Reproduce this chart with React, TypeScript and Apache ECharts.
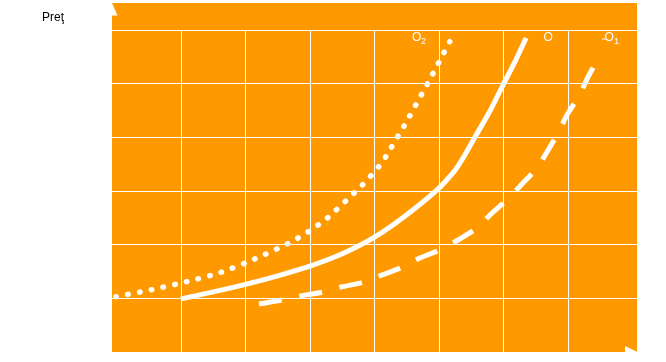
import React, { useEffect, useRef } from "react";
import * as echarts from "echarts";

// Curve O (solid) — x in grid columns, y in grid rows
const oX = [1.0, 1.5, 2.0, 2.5, 3.0, 3.5, 4.0, 4.47, 4.97, 5.25, 5.37, 5.56, 5.79, 5.99, 6.19, 6.35];
const oY = [0.99, 1.12, 1.26, 1.42, 1.6, 1.83, 2.14, 2.53, 3.02, 3.39, 3.61, 4.01, 4.49, 4.97, 5.44, 5.85];

// Curve O1 (dashed)
const o1X = [2.209, 2.566, 2.845, 3.202, 3.481, 3.837, 4.116, 4.442, 4.705, 5.047, 5.295, 5.589, 5.822, 6.07, 6.287, 6.519, 6.674, 6.845, 6.984, 7.171, 7.31, 7.465];
const o1Y = [0.894, 0.969, 1.043, 1.118, 1.211, 1.304, 1.435, 1.584, 1.751, 1.919, 2.087, 2.31, 2.59, 2.851, 3.13, 3.428, 3.727, 4.08, 4.416, 4.77, 5.124, 5.459];

// Curve O2 (dotted)
const o2X = [-0.008, 0.546, 1.088, 1.62, 2.143, 2.654, 2.974, 3.274, 3.553, 3.817, 4.065, 4.174, 4.457, 4.819, 5.166];
const o2Y = [1.03, 1.161, 1.31, 1.485, 1.733, 2.018, 2.241, 2.502, 2.813, 3.117, 3.453, 3.639, 4.211, 4.993, 5.782];

const yAxisTitle = "Preţ";
const curveNames = ["O", "O", "O"];
const curveSubs = ["", "1", "2"];

const pairs = (xs: number[], ys: number[]) => xs.map((x, i) => [x, ys[i]]);

export default function App() {
  const ref = useRef<HTMLDivElement>(null);
  useEffect(() => {
    if (!ref.current) return;
    const chart = echarts.init(ref.current, null, { renderer: "svg" });
    const orange = "#ff9900";
    const font = "'Liberation Sans', Arial, sans-serif";
    const hidden = {
      axisLine: { show: false },
      axisTick: { show: false },
      axisLabel: { show: false },
    };
    chart.setOption({
      animation: false,
      backgroundColor: "transparent",
      grid: [
        { left: 112, right: 29, top: 30, bottom: 10 },
        { left: 116.5, right: 33.5, top: 30, bottom: 10 },
      ],
      xAxis: [
        { type: "value", gridIndex: 0, min: 0, max: 8, interval: 1, ...hidden, splitLine: { show: false } },
        {
          type: "value",
          gridIndex: 1,
          min: 0,
          max: 8,
          interval: 1,
          ...hidden,
          splitLine: { show: true, showMinLine: false, showMaxLine: false, lineStyle: { color: "#ffffff", width: 1 } },
        },
      ],
      yAxis: [
        {
          type: "value",
          gridIndex: 0,
          min: 0,
          max: 6,
          interval: 1,
          ...hidden,
          splitLine: { show: true, showMinLine: false, lineStyle: { color: "#ffffff", width: 1 } },
        },
        { type: "value", gridIndex: 1, min: 0, max: 6, interval: 1, ...hidden, splitLine: { show: false } },
      ],
      graphic: [
        { type: "rect", z: -10, silent: true, shape: { x: 112, y: 3, width: 525, height: 349 }, style: { fill: orange } },
        { type: "polygon", z: 10, shape: { points: [[112, 3], [117.5, 15.5], [112, 15.5]] }, style: { fill: "#ffffff" } },
        { type: "polygon", z: 10, shape: { points: [[625, 346], [637.5, 352], [625, 352]] }, style: { fill: "#ffffff" } },
        { type: "text", x: 42, y: 16.5, style: { text: yAxisTitle, fill: "#000000", font: `12px ${font}`, verticalAlign: "middle" } },
        { type: "text", x: 412, y: 37, z: 10, style: { text: curveNames[2], fill: "#ffffff", font: `12px ${font}`, verticalAlign: "middle" } },
        { type: "text", x: 421, y: 40.5, z: 10, style: { text: curveSubs[2], fill: "#ffffff", font: `9px ${font}`, verticalAlign: "middle" } },
        { type: "text", x: 543.5, y: 37, z: 10, style: { text: curveNames[0], fill: "#ffffff", font: `12px ${font}`, verticalAlign: "middle" } },
        { type: "text", x: 604.5, y: 37, z: 10, style: { text: curveNames[1], fill: "#ffffff", font: `12px ${font}`, verticalAlign: "middle" } },
        { type: "text", x: 614, y: 40.5, z: 10, style: { text: curveSubs[1], fill: "#ffffff", font: `9px ${font}`, verticalAlign: "middle" } },
        { type: "rect", z: 10, shape: { x: 602, y: 38.5, width: 3.5, height: 1 }, style: { fill: "#ffffff" } },
      ],
      series: [
        {
          type: "line",
          name: "O",
          xAxisIndex: 1,
          yAxisIndex: 1,
          data: pairs(oX, oY),
          smooth: 0.25,
          showSymbol: false,
          clip: false,
          lineStyle: { color: "#ffffff", width: 5, cap: "butt" },
        },
        {
          type: "line",
          name: "O1",
          xAxisIndex: 1,
          yAxisIndex: 1,
          data: pairs(o1X, o1Y),
          smooth: 0.25,
          showSymbol: false,
          clip: false,
          lineStyle: { color: "#ffffff", width: 5, type: [23, 18], cap: "butt" },
        },
        {
          type: "line",
          name: "O2",
          xAxisIndex: 1,
          yAxisIndex: 1,
          data: pairs(o2X, o2Y),
          smooth: 0.25,
          showSymbol: false,
          clip: false,
          lineStyle: { color: "#ffffff", width: 5.5, type: [0.5, 11.5], cap: "round" },
        },
      ],
    });
    return () => chart.dispose();
  }, []);
  return <div ref={ref} style={{ position: "fixed", left: 0, top: 0, width: 666, height: 362 }} />;
}
